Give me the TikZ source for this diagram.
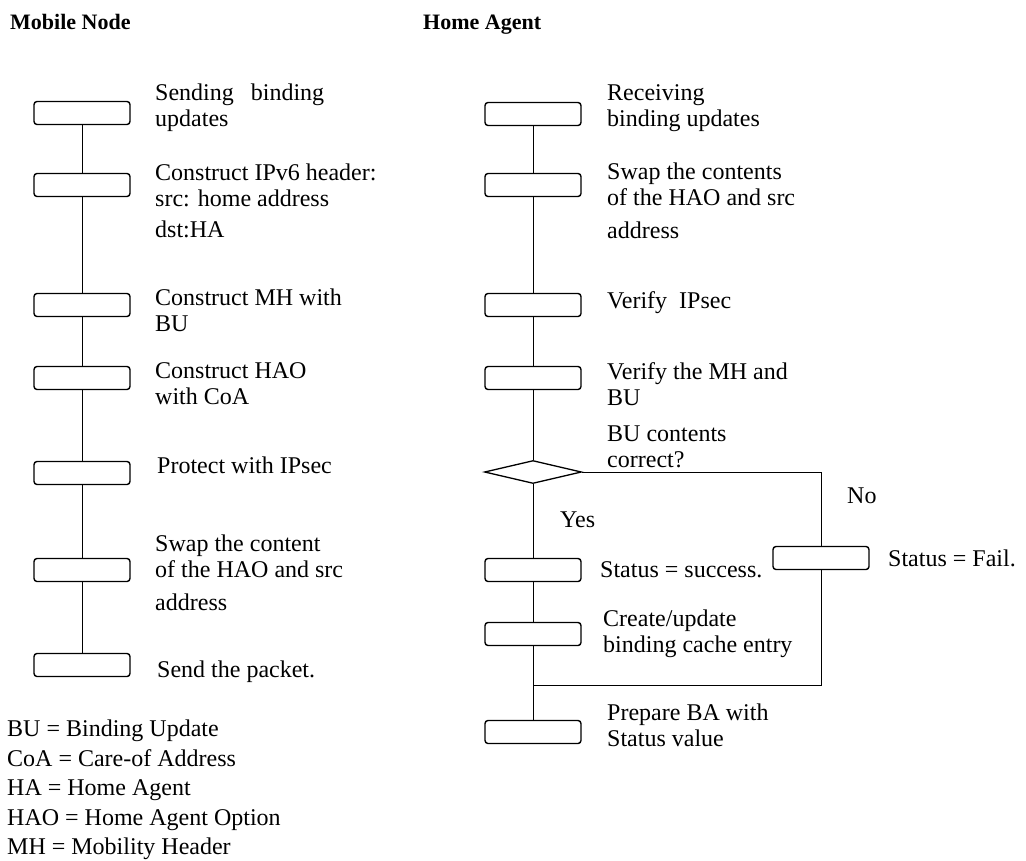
\documentclass[tikz,border=0pt]{standalone}
\usepackage{fontspec}
\setmainfont{Liberation Serif}
\usetikzlibrary{shapes.geometric}

\begin{document}
\begin{tikzpicture}[
    x=1pt, y=-1pt,
    stepbox/.style={rectangle, draw, line width=1.4pt, rounded corners=3pt, minimum width=96pt, minimum height=23pt, inner sep=0pt},
    decision/.style={diamond, draw, line width=1.3pt, minimum width=97pt, minimum height=23pt, inner sep=0pt},
    desc/.style={anchor=west, align=left, inner sep=0pt, font=\fontsize{24}{26}\selectfont},
    heading/.style={anchor=base west, inner sep=0pt, font=\fontsize{22}{24}\selectfont\bfseries},
    flow/.style={line width=1pt}
]
\useasboundingbox (0,0) rectangle (1026,860);

% Headings
\node[heading] (mnhead) at (10,29) {Mobile Node};
\node[heading] (hahead) at (423,29) {Home Agent};

% Mobile node steps
\node[stepbox] (m1) at (82,113) {};
\node[stepbox] (m2) at (82,185) {};
\node[stepbox] (m3) at (82,305) {};
\node[stepbox] (m4) at (82,378) {};
\node[stepbox] (m5) at (82,473) {};
\node[stepbox] (m6) at (82,570) {};
\node[stepbox] (m7) at (82,665) {};

\node[desc] (m1txt) at (155,108) {Sending\hspace{17pt}binding\\updates};
\node[desc] (m2txt) at (155,201) {Construct IPv6 header:\\src: home address\\[5pt]dst:HA};
\node[desc] (m3txt) at (155,310) {Construct MH with\\BU};
\node[desc] (m4txt) at (155,384) {Construct HAO\\with CoA};
\node[desc] (m5txt) at (157,465) {Protect with IPsec};
\node[desc] (m6txt) at (155,573) {Swap the content\\of the HAO and src\\[7pt]address};
\node[desc] (m7txt) at (157,672) {Send the packet.};

% Home agent steps
\node[stepbox] (h1) at (533,114) {};
\node[stepbox] (h2) at (533,185) {};
\node[stepbox] (h3) at (533,305) {};
\node[stepbox] (h4) at (533,378) {};
\node[decision] (check) at (533,472) {};
\node[stepbox] (ok) at (533,570) {};
\node[stepbox] (fail) at (821,558) {};
\node[stepbox] (cache) at (533,634) {};
\node[stepbox] (ba) at (533,732) {};
\coordinate (merge) at (533,685);

\node[desc] (h1txt) at (607,108) {Receiving\\binding updates};
\node[desc] (h2txt) at (607,201) {Swap the contents\\of the HAO and src\\[7pt]address};
\node[desc] (h3txt) at (607,303) {Verify\hspace{12pt}IPsec};
\node[desc] (h4txt) at (607,384) {Verify the MH and\\BU};
\node[desc] (checktxt) at (607,447) {BU contents\\correct?};
\node[desc] (yes) at (560,520) {Yes};
\node[desc] (no) at (847,496) {No};
\node[desc] (oktxt) at (600,570) {Status = success.};
\node[desc] (failtxt) at (888,558) {Status = Fail.};
\node[desc] (cachetxt) at (603,634) {Create/update\\binding cache entry};
\node[desc] (batxt) at (607,725) {Prepare BA with\\Status value};

% Legend
\node[desc, font=\fontsize{24}{29.5}\selectfont] (legend) at (7,790) {BU = Binding Update\\CoA = Care-of Address\\HA = Home Agent\\HAO = Home Agent Option\\MH = Mobility Header};

% Lines
\draw[flow] (m1) -- (m2) -- (m3) -- (m4) -- (m5) -- (m6) -- (m7);
\draw[flow] (h1) -- (h2) -- (h3) -- (h4) -- (check) -- (ok) -- (cache) -- (ba);
\draw[flow] (check.east) -| (fail.north);
\draw[flow] (fail.south) |- (merge);

\end{tikzpicture}
\end{document}
